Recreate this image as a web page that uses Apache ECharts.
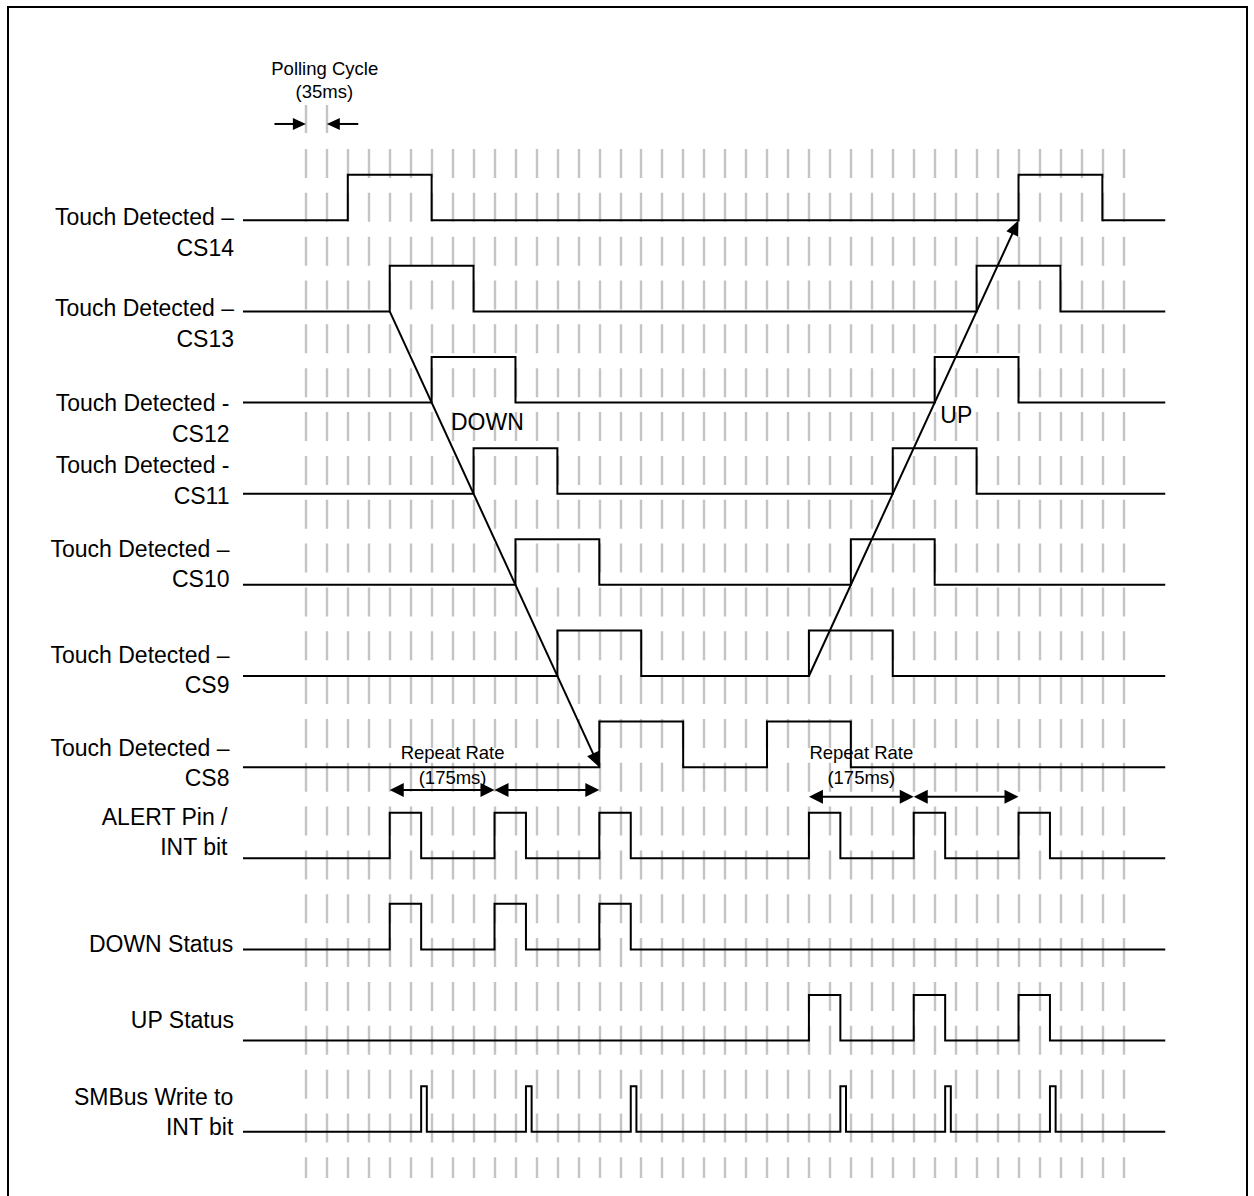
<!DOCTYPE html>
<html><head><meta charset="utf-8">
<script src="https://cdn.jsdelivr.net/npm/echarts@6/dist/echarts.min.js"></script>
<style>html,body{margin:0;padding:0;background:#fff}#c{width:1254px;height:1196px}</style>
</head><body><div id="c"></div>
<script>
// ---------- DATA (time in polling cycles of 35 ms) ----------
const rowLabels = [
  'Touch Detected –\nCS14', 'Touch Detected –\nCS13', 'Touch Detected -\nCS12',
  'Touch Detected -\nCS11', 'Touch Detected –\nCS10', 'Touch Detected –\nCS9',
  'Touch Detected –\nCS8', 'ALERT Pin /\nINT bit', 'DOWN Status', 'UP Status',
  'SMBus Write to\nINT bit'
];
const cs14Pulses = [[2, 6], [34, 38]];
const cs13Pulses = [[4, 8], [32, 36]];
const cs12Pulses = [[6, 10], [30, 34]];
const cs11Pulses = [[8, 12], [28, 32]];
const cs10Pulses = [[10, 14], [26, 30]];
const cs9Pulses = [[12, 16], [24, 28]];
const cs8Pulses = [[14, 18], [22, 26]];
const alertPulses = [[4, 5.5], [9, 10.5], [14, 15.5], [24, 25.5], [29, 30.5], [34, 35.5]];
const downPulses = [[4, 5.5], [9, 10.5], [14, 15.5]];
const upPulses = [[24, 25.5], [29, 30.5], [34, 35.5]];
const smbusPulses = [[5.5, 5.77], [10.5, 10.77], [15.5, 15.77], [25.5, 25.77], [30.5, 30.77], [35.5, 35.77]];
const allPulses = [cs14Pulses, cs13Pulses, cs12Pulses, cs11Pulses, cs10Pulses, cs9Pulses,
  cs8Pulses, alertPulses, downPulses, upPulses, smbusPulses];
const timeStart = -3, timeEnd = 41;      // extent of the signal traces
const pollFirst = 0, pollLast = 39;      // polling-cycle marker lines
const pulseHigh = 0.5;                   // high level relative to row baseline

// ---------- LAYOUT / STYLE ----------
const U = 20.96, X0 = 243;      // px per cycle, px of timeStart
const ROW = 91.14, Y0 = 220.3;  // px per row, px of row-0 baseline
const yMin = -10.5, yMax = 2;
const FONT = '"Liberation Sans", Arial, Helvetica, sans-serif';
const labelGap = [9, 9, 13.5, 13.5, 13.5, 13.5, 13.5, 15.5, 9.7, 9, 9.7];
const labelDy = [12, 12, 15.7, -13, -20.8, -6, -4, -26.3, -5.4, -20.6, -19.9];

const annotations = [
  {text: 'Polling Cycle', t: 0.9, v: 1.671, size: 18.5},
  {text: '(35ms)', t: 0.88, v: 1.411, size: 18.5},
  {text: 'Repeat Rate', t: 7.0, v: -5.84, size: 18.5},
  {text: '(175ms)', t: 7.0, v: -6.11, size: 18.5},
  {text: 'Repeat Rate', t: 26.5, v: -5.84, size: 18.5},
  {text: '(175ms)', t: 26.5, v: -6.11, size: 18.5},
  {text: 'DOWN', t: 8.66, v: -2.21, size: 23},
  {text: 'UP', t: 31.03, v: -2.136, size: 23}
];
const arrows = [
  {from: [-1.5, 1.057], to: [0, 1.057], start: false, end: true, len: 13, half: 6},
  {from: [2.5, 1.057], to: [1, 1.057], start: false, end: true, len: 13, half: 6},
  {from: [4, -1], to: [14, -6], start: false, end: true, len: 15, half: 6.5},
  {from: [24, -5], to: [34, 0], start: false, end: true, len: 15, half: 6.5},
  {from: [4, -6.251], to: [9, -6.251], start: true, end: true, len: 14, half: 7},
  {from: [9, -6.251], to: [14, -6.251], start: true, end: true, len: 14, half: 7},
  {from: [24, -6.324], to: [29, -6.324], start: true, end: true, len: 14, half: 7},
  {from: [29, -6.324], to: [34, -6.324], start: true, end: true, len: 14, half: 7}
];

function wave(row, pulses) {
  const b = -row, pts = [[timeStart, b]];
  pulses.forEach(([s, e]) => { pts.push([s, b], [s, b + pulseHigh], [e, b + pulseHigh], [e, b]); });
  pts.push([timeEnd, b]);
  return pts;
}

const chart = echarts.init(document.getElementById('c'), null, {renderer: 'svg'});
const mainTop = Y0 - yMax * ROW, mainH = (yMax - yMin) * ROW;
const gridLeft = X0 + (pollFirst - timeStart) * U;

const series = allPulses.map((p, i) => ({
  type: 'line', xAxisIndex: 0, yAxisIndex: 0, data: wave(i, p),
  symbol: 'none', showSymbol: false, smooth: false, animation: false, silent: true,
  lineStyle: {color: '#000', width: 2, join: 'miter', cap: 'butt'}, z: 3
}));

series.push({
  type: 'custom', xAxisIndex: 0, yAxisIndex: 0, clip: false, animation: false, silent: true, z: 4,
  data: arrows.map(a => [a.from[0], a.from[1], a.to[0], a.to[1]]),
  encode: {x: [0, 2], y: [1, 3]},
  renderItem(params, api) {
    const a = arrows[params.dataIndex];
    const p1 = api.coord([api.value(0), api.value(1)]);
    const p2 = api.coord([api.value(2), api.value(3)]);
    const dx = p2[0] - p1[0], dy = p2[1] - p1[1], L = Math.hypot(dx, dy);
    const ux = dx / L, uy = dy / L;
    const kids = [];
    let s = p1.slice(), e = p2.slice();
    const head = (tip, dx2, dy2) => {
      const bx = tip[0] - dx2 * a.len, by = tip[1] - dy2 * a.len;
      return {type: 'polygon', shape: {points: [tip, [bx - dy2 * a.half, by + dx2 * a.half], [bx + dy2 * a.half, by - dx2 * a.half]]}, style: {fill: '#000'}};
    };
    if (a.end) { kids.push(head(p2, ux, uy)); e = [p2[0] - ux * a.len * 0.7, p2[1] - uy * a.len * 0.7]; }
    if (a.start) { kids.push(head(p1, -ux, -uy)); s = [p1[0] + ux * a.len * 0.7, p1[1] + uy * a.len * 0.7]; }
    kids.unshift({type: 'line', shape: {x1: s[0], y1: s[1], x2: e[0], y2: e[1]}, style: {stroke: '#000', lineWidth: 2}});
    return {type: 'group', children: kids};
  }
});

series.push({
  type: 'custom', xAxisIndex: 0, yAxisIndex: 0, clip: false, animation: false, silent: true, z: 5,
  data: annotations.map(a => [a.t, a.v]),
  renderItem(params, api) {
    const a = annotations[params.dataIndex];
    const p = api.coord([api.value(0), api.value(1)]);
    return {type: 'text', x: p[0], y: p[1], style: {text: a.text, fill: '#000', fontSize: a.size, fontFamily: FONT, align: 'center', verticalAlign: 'middle'}};
  }
});

series.push({
  type: 'custom', xAxisIndex: 0, yAxisIndex: 0, clip: false, animation: false, silent: true, z: 5,
  data: rowLabels.map((_, i) => [timeStart, -i]),
  renderItem(params, api) {
    const i = params.dataIndex;
    const p = api.coord([api.value(0), api.value(1)]);
    return {type: 'text', x: p[0] - labelGap[i], y: p[1] + labelDy[i], style: {text: rowLabels[i], fill: '#000', fontSize: 23, lineHeight: 30.5, fontFamily: FONT, align: 'right', verticalAlign: 'middle'}};
  }
});

const hidden = {axisLine: {show: false}, axisTick: {show: false}, axisLabel: {show: false}};
chart.setOption({
  backgroundColor: '#fff',
  animation: false,
  grid: [
    {left: X0, width: (timeEnd - timeStart) * U, top: mainTop, height: mainH},
    {left: gridLeft, width: (pollLast - pollFirst) * U, top: 149, height: 1029},
    {left: gridLeft, width: U, top: 105, height: 28}
  ],
  xAxis: [
    {type: 'value', gridIndex: 0, min: timeStart, max: timeEnd, show: false},
    Object.assign({type: 'value', gridIndex: 1, min: pollFirst, max: pollLast, interval: 1,
      splitLine: {show: true, lineStyle: {color: '#c4c4c4', width: 2.4, type: [29, 14.84]}}}, hidden),
    Object.assign({type: 'value', gridIndex: 2, min: pollFirst, max: pollFirst + 1, interval: 1,
      splitLine: {show: true, lineStyle: {color: '#c4c4c4', width: 2.4, type: 'solid'}}}, hidden)
  ],
  yAxis: [
    {type: 'value', gridIndex: 0, min: yMin, max: yMax, show: false},
    {type: 'value', gridIndex: 1, min: 0, max: 1, show: false},
    {type: 'value', gridIndex: 2, min: 0, max: 1, show: false}
  ],
  graphic: [{type: 'rect', shape: {x: 8, y: 7, width: 1239, height: 1300}, style: {fill: 'none', stroke: '#000', lineWidth: 2}, silent: true}],
  series
});
</script></body></html>
